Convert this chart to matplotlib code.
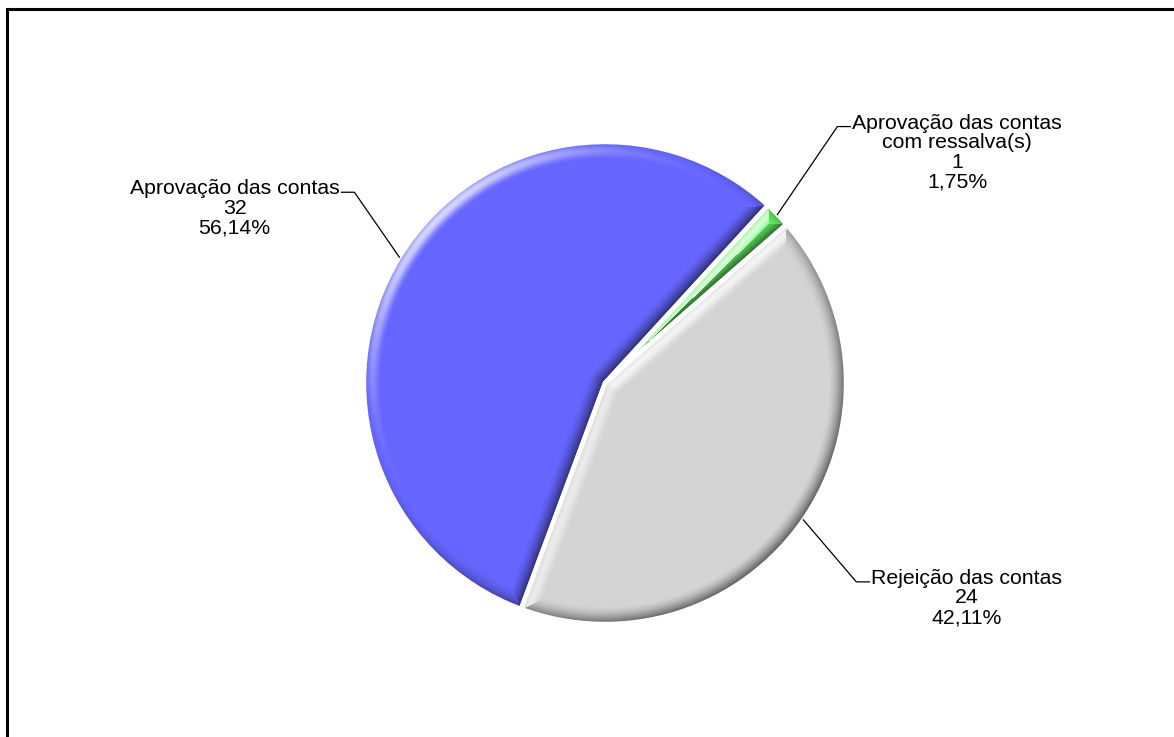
import numpy as np
import matplotlib
matplotlib.use("Agg")
import matplotlib.pyplot as plt
from matplotlib.colors import to_rgb
from matplotlib.patches import Rectangle

# situação das contas: aprovadas, aprovadas com ressalva(s), rejeitadas
labels = ["Aprovação das contas", "Aprovação das contas\ncom ressalva(s)", "Rejeição das contas"]
counts = [32, 1, 24]
colors = ["#6666FF", "#66F266", "#D4D4D4"]

W, H = 1174, 737
CX, CY, R = 605, H - 383, 241
BEVEL = 18                     # bevel width in px
PHI_MAX = np.radians(78)       # tilt of the bevel at the outer edge
LIGHT = np.array([-0.5, 0.5, 0.7])
LIGHT = LIGHT / np.linalg.norm(LIGHT)

# leader lines: elbow offset from slice edge, side of the label
leaders = [(-45, 65, -1), (60, 88, 1), (53, -62, 1)]

plt.rcParams["font.family"] = ["Liberation Sans", "DejaVu Sans"]


def bevel_image(w, color):
    """RGB shading for one wedge: a rounded bevel lit from the upper left."""
    cx, cy = w.center
    r0 = w.r
    t1, t2 = np.radians(w.theta1), np.radians(w.theta2)
    xs = np.arange(np.floor(cx - r0) - 2, np.ceil(cx + r0) + 3)
    ys = np.arange(np.floor(cy - r0) - 2, np.ceil(cy + r0) + 3)
    X, Y = np.meshgrid(xs, ys)
    dx, dy = X - cx, Y - cy
    rr = np.hypot(dx, dy)
    th = np.arctan2(dy, dx)
    a = np.mod(th - t1, 2 * np.pi)
    b = np.clip((t2 - t1) - a, 0, None)

    d_arc = r0 - rr
    d_s = np.where(a < np.pi / 2, rr * np.sin(a), rr)
    d_e = np.where(b < np.pi / 2, rr * np.sin(b), rr)
    dist = np.stack([d_arc, d_s, d_e])
    idx = np.argmin(dist, axis=0)
    d = np.min(dist, axis=0)

    nx = np.choose(idx, [np.cos(th), np.full_like(th, np.sin(t1)), np.full_like(th, -np.sin(t2))])
    ny = np.choose(idx, [np.sin(th), np.full_like(th, -np.cos(t1)), np.full_like(th, np.cos(t2))])

    phi = np.clip(1 - d / BEVEL, 0, 1) ** 1.3 * PHI_MAX
    shade = np.sin(phi) * (nx * LIGHT[0] + ny * LIGHT[1]) + np.cos(phi) * LIGHT[2] - LIGHT[2]

    base = np.array(to_rgb(color))
    hi = np.clip((np.clip(shade, 0, None) / 0.3) ** 2 * 0.75, 0, 0.85)
    lo = np.clip(-shade, 0, None) * 0.55
    rgb = base + (1 - base) * hi[..., None]
    rgb = rgb * (1 - lo[..., None])
    extent = (xs[0] - 0.5, xs[-1] + 0.5, ys[0] - 0.5, ys[-1] + 0.5)
    return np.clip(rgb, 0, 1), extent


fig = plt.figure(figsize=(W / 100, H / 100), dpi=100)
ax = fig.add_axes([0, 0, 1, 1])
wedges, _ = ax.pie(counts, colors=colors, startangle=249.6, counterclock=False,
                   radius=R, center=(CX, CY), wedgeprops=dict(linewidth=0))
ax.set_xlim(0, W)
ax.set_ylim(0, H)
ax.set_aspect("auto")
ax.axis("off")

total = sum(counts)
for w, col, lab, n, (ex, ey, side) in zip(wedges, colors, labels, counts, leaders):
    img, extent = bevel_image(w, col)
    im = ax.imshow(img, extent=extent, origin="lower", interpolation="bilinear", zorder=2)
    im.set_clip_path(w)
    w.set_facecolor("none")
    w.set_edgecolor("white")
    w.set_linewidth(3.2)
    w.set_zorder(3)

    mid = np.radians((w.theta1 + w.theta2) / 2)
    x0, y0 = CX + R * np.cos(mid), CY + R * np.sin(mid)
    x1, y1 = x0 + ex, y0 + ey
    x2 = x1 + side * 13
    ax.plot([x0, x1, x2], [y0, y1, y1], color="black", lw=0.9, zorder=4)

    pct = f"{100 * n / total:.2f}".replace(".", ",")
    ax.text(x2 + side * 2, y1 + 13, f"{lab}\n{n}\n{pct}%", ha="left" if side > 0 else "right",
            va="top", multialignment="center", fontsize=15.3, linespacing=1.04, color="black")

# outer frame of the chart area
ax.add_patch(Rectangle((7, -20), W + 40, H - 9 + 20, fill=False, ec="black", lw=2.2,
                       clip_on=False, zorder=5))

fig.savefig("out.png", dpi=100)
